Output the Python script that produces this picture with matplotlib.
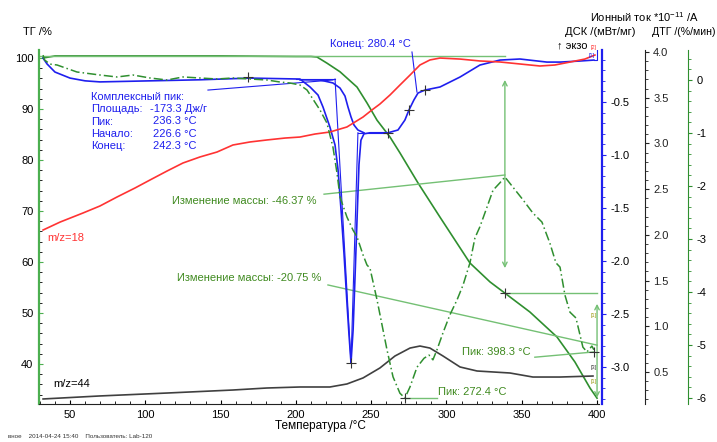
import matplotlib.pyplot as plt
from matplotlib.ticker import MultipleLocator

plt.rcParams['font.family'] = ['Liberation Sans', 'DejaVu Sans']
plt.rcParams['font.size'] = 8
plt.rcParams['axes.unicode_minus'] = False

W, H = 717, 442

# ТГ, %
tg_t = [32.1, 40, 70, 100, 150, 200, 210, 214, 220.6, 229.3, 240.6, 247.2, 253.9, 262.5,
        269.1, 281.1, 295.7, 315.6, 328.9, 338.8, 355.4, 373.4, 385.3, 395.3, 400]
tg_v = [100.0, 100.4, 100.4, 100.4, 100.4, 100.3, 100.3, 100.2, 99.0, 97.3, 94.3, 91.2, 87.8, 84.5,
        81.4, 75.5, 68.8, 59.8, 56.1, 53.9, 50.2, 45.3, 40.4, 35.3, 33.3]

# ДСК, мВт/мг
dsc_t = [32.1, 34.7, 40, 50, 60, 69.9, 103.1, 136.3, 169.5, 202.7, 209.4, 214.7, 218, 222.6,
         226, 228, 230, 232, 234, 235.3, 236.6, 238, 239.2, 240.6, 241.9, 243.2, 245.2, 249.2,
         261.2, 267.8, 272.4, 275.1, 278.4, 281.1, 285.7, 295.7, 309, 322.2, 335.5, 348.8,
         366.7, 375.4, 388.6, 397.9]
dsc_v = [-0.085, -0.14, -0.217, -0.274, -0.30, -0.31, -0.30, -0.29, -0.274, -0.283, -0.358,
         -0.434, -0.547, -0.736, -0.906, -1.14, -1.52, -1.94, -2.415, -2.70, -2.96, -2.65, -2.18,
         -1.61, -1.09, -0.86, -0.80, -0.79, -0.79, -0.764, -0.67, -0.575, -0.48, -0.415, -0.387,
         -0.358, -0.264, -0.151, -0.104, -0.094, -0.123, -0.123, -0.113, -0.104]

# ДСК, сигмоидальная линия
dsc2_t = [202.7, 216, 224.6, 229.3, 232.6, 234.6, 236.6, 238.6, 241.2, 245.2]
dsc2_v = [-0.29, -0.292, -0.32, -0.368, -0.443, -0.547, -0.64, -0.717, -0.764, -0.79]

# Ионный ток m/z=18
ion18_t = [32.1, 43.4, 58.6, 69.9, 81.2, 93.2, 103.1, 114.4, 125, 136.3, 147.6, 158.2, 169.5,
           180.8, 192.8, 202.7, 212.7, 222.6, 233.9, 244.6, 250.5, 255.8, 262.5, 269.1, 275.8,
           282.4, 289.0, 295.7, 309, 322.2, 335.5, 348.8, 362.1, 372.0, 382, 391.9, 398.6]
ion18_v = [2.053, 2.14, 2.239, 2.316, 2.414, 2.513, 2.60, 2.698, 2.786, 2.852, 2.906, 2.983,
           3.016, 3.038, 3.059, 3.070, 3.103, 3.125, 3.18, 3.289, 3.366, 3.431, 3.53, 3.639,
           3.748, 3.858, 3.913, 3.934, 3.923, 3.902, 3.891, 3.869, 3.847, 3.858, 3.89, 3.923, 3.967]

# Ионный ток m/z=44
ion44_t = [32.1, 69.9, 114.4, 158.2, 180.8, 202.7, 222.6, 233.9, 244.6, 255.8, 265.8, 275.8,
           282.4, 289, 297.7, 309, 320.3, 342.2, 357.4, 375.4, 397.3]
ion44_v = [0.205, 0.238, 0.27, 0.303, 0.325, 0.336, 0.336, 0.369, 0.435, 0.544, 0.675, 0.762,
           0.784, 0.762, 0.675, 0.555, 0.511, 0.489, 0.445, 0.445, 0.456]

# ДТГ, %/мин
dtg_t = [32.1, 33.0, 36.7, 41.4, 54.6, 69.9, 81.2, 91.8, 103.1, 114.4, 125, 136.3, 147.6, 158.2,
         169.5, 180.8, 189.4, 196.1, 202.7, 207.4, 216, 220.6, 224.6, 227.3, 229.3, 233.9, 237.9,
         240.6, 244.6, 247.2, 249.2, 253.9, 257.2, 260.5, 264.5, 269.1, 272.4, 275.8, 280.4,
         285.1, 288.4, 291.0, 293.7, 297.7, 302.3, 307, 311, 315.6, 318.9, 322.2, 326.9, 330.9,
         335.5, 338.8, 344.1, 350.8, 357.4, 363.4, 368.7, 372.7, 375.4, 378.7, 382, 386, 390.6,
         393.3, 396.6, 397.9]
dtg_v = [0.47, 0.38, 0.30, 0.283, 0.151, 0.094, 0.057, 0.094, 0.038, 0.0, 0.057, 0.038, 0.019,
         0.038, 0.019, 0.0, -0.038, -0.057, -0.094, -0.189, -0.566, -0.811, -1.264, -1.755,
         -2.208, -2.585, -2.83, -2.96, -3.30, -3.49, -3.55, -4.15, -4.62, -5.09, -5.60, -5.91,
         -6.0, -5.79, -5.42, -5.25, -5.19, -5.28, -5.09, -4.77, -4.43, -4.15, -3.87, -3.45,
         -2.98, -2.77, -2.40, -2.08, -1.94, -1.83, -2.02, -2.26, -2.51, -2.68, -3.08, -3.45,
         -3.53, -4.06, -4.38, -4.49, -5.04, -5.13, -5.02, -5.09]

dsc_marks_t = [168.2, 236.6, 261.2, 275.1, 285.7]
dsc_marks_v = [-0.264, -2.96, -0.79, -0.575, -0.387]

GREEN = '#2f8f2f'
LGREEN = '#74c074'
BLUE = '#1f1fee'
RED = '#ff3333'
GRAY = '#404040'
TXTGREEN = '#3f8a1f'


def px(x, y):
    return x / W, 1 - y / H


fig = plt.figure(figsize=(W / 100, H / 100), dpi=100)
ax = fig.add_axes([39 / W, 38 / H, 560 / W, 354 / H])
ax.set_xlim(29.4, 401.3)
ax.set_ylim(32.16, 101.57)

ax_dsc = ax.twinx()
ax_dsc.set_ylim(-3.349, -0.009)
ax_ion = ax.twinx()
ax_ion.set_ylim(0.15, 4.022)
ax_dtg = ax.twinx()
ax_dtg.set_ylim(-6.113, 0.566)

for a in (ax, ax_dsc, ax_ion, ax_dtg):
    a.spines['top'].set_visible(False)
    a.patch.set_visible(False)
for a in (ax_dsc, ax_ion, ax_dtg):
    a.spines['left'].set_visible(False)
    a.spines['bottom'].set_visible(False)
ax.spines['right'].set_visible(False)

ax.spines['left'].set_color('#4caf50')
ax.spines['left'].set_linewidth(1.6)
ax.spines['bottom'].set_color('#222222')
ax_dsc.spines['right'].set_position(('outward', 2))
ax_dsc.spines['right'].set_color(BLUE)
ax_dsc.spines['right'].set_linewidth(1.6)
ax_ion.spines['right'].set_position(('outward', 33))
ax_ion.spines['right'].set_color('#222222')
ax_dtg.spines['right'].set_position(('outward', 64))
ax_dtg.spines['right'].set_color(GREEN)

ax.xaxis.set_major_locator(MultipleLocator(50))
ax.xaxis.set_minor_locator(MultipleLocator(10))
ax.yaxis.set_major_locator(MultipleLocator(10))
ax.yaxis.set_minor_locator(MultipleLocator(2))
ax.tick_params(axis='both', which='both', direction='in', labelsize=8, pad=4)
ax.tick_params(axis='both', which='major', length=3)
ax.tick_params(axis='both', which='minor', length=2)
ax.tick_params(axis='y', colors='#4caf50', labelcolor='black')

ax_dsc.yaxis.set_major_locator(MultipleLocator(0.5))
ax_dsc.yaxis.set_minor_locator(MultipleLocator(0.1))
ax_dsc.tick_params(which='both', colors=BLUE, labelcolor='black', labelsize=8, pad=3)
ax_dsc.tick_params(which='major', length=3)
ax_dsc.tick_params(which='minor', length=2)
ax_dsc.yaxis.set_major_formatter(lambda v, p: f'{v:.1f}' if v < -0.2 else '')

ax_ion.yaxis.set_major_locator(MultipleLocator(0.5))
ax_ion.yaxis.set_minor_locator(MultipleLocator(0.1))
ax_ion.tick_params(which='both', colors='#222222', labelsize=8, pad=3)
ax_ion.tick_params(which='major', length=3)
ax_ion.tick_params(which='minor', length=2)
ax_ion.yaxis.set_major_formatter(lambda v, p: f'{v:.1f}')

ax_dtg.yaxis.set_major_locator(MultipleLocator(1))
ax_dtg.yaxis.set_minor_locator(MultipleLocator(0.2))
ax_dtg.tick_params(which='both', colors=GREEN, labelcolor='black', labelsize=8, pad=3)
ax_dtg.tick_params(which='major', length=3)
ax_dtg.tick_params(which='minor', length=2)
ax_dtg.yaxis.set_major_formatter(lambda v, p: f'{v:.0f}')

# curves
ax.plot(tg_t, tg_v, color=GREEN, lw=1.2)
ax_ion.plot(ion18_t, ion18_v, color=RED, lw=1.2)
ax_ion.plot(ion44_t, ion44_v, color=GRAY, lw=1.2)
ax_dtg.plot(dtg_t, dtg_v, color=GREEN, lw=1.1, ls=(0, (6, 2, 1, 2)))
ax_dsc.plot(dsc_t, dsc_v, color=BLUE, lw=1.2)
ax_dsc.plot(dsc2_t, dsc2_v, color=BLUE, lw=1.2)

# DSC integration lines
ax_dsc.plot([141.6, 224.6], [-0.387, -0.292], color=BLUE, lw=0.8)
ax_dsc.plot([200, 226], [-0.283, -0.283], color=BLUE, lw=0.8)
ax_dsc.plot([226, 236.6], [-0.283, -2.96], color=BLUE, lw=0.8)
ax_dsc.plot([236.6, 241.2], [-2.96, -0.79], color=BLUE, lw=0.8)
ax_dsc.plot([241.2, 261.2], [-0.79, -0.79], color=BLUE, lw=0.8)
ax_dsc.plot(dsc_marks_t, dsc_marks_v, ls='none', marker='+', ms=7, mew=0.8, color='#333333')
ax_dsc.plot([277.1, 280.4], [-0.028, -0.406], color=BLUE, lw=0.8)
ax_dsc.plot([398, 400.2, 400.2], [-0.104, -0.104, -0.01], color=BLUE, lw=0.8)

# mass change construction
ax.plot([30, 338.8], [100.4, 100.4], color=LGREEN, lw=1)
ax.plot([338.8, 400], [53.9, 53.9], color=LGREEN, lw=1)
ax.annotate('', xy=(338.8, 95.7), xytext=(338.8, 58.8),
            arrowprops=dict(arrowstyle='<->', color=LGREEN, lw=1, shrinkA=0, shrinkB=0))
ax.annotate('', xy=(400, 51.8), xytext=(400, 33.4),
            arrowprops=dict(arrowstyle='<->', color=LGREEN, lw=1, shrinkA=0, shrinkB=0))
ax.plot([218.7, 338.8], [73.3, 77.06], color=LGREEN, lw=1)
ax.plot([221.3, 400], [55.5, 43.7], color=LGREEN, lw=1)
ax.plot([338.8], [53.9], marker='+', ms=7, mew=0.8, color='#333333')

# DTG peaks
ax_dtg.plot([272.4, 293.6], [-6.0, -6.0], color=LGREEN, lw=1)
ax_dtg.plot([358.7, 398.3], [-5.23, -5.13], color=LGREEN, lw=1)
ax_dtg.plot([272.4, 398.3], [-6.0, -5.13], ls='none', marker='+', ms=7, mew=0.8, color='#333333')

# texts
fig.text(*px(23, 32), 'ТГ /%', ha='left', va='center', fontsize=8)
fig.text(*px(590, 17), 'Ионный ток *10$^{\\mathregular{-11}}$ /А', ha='left', va='center', fontsize=8)
fig.text(*px(565, 32), 'ДСК /(мВт/мг)', ha='left', va='center', fontsize=8)
fig.text(*px(652, 32), 'ДТГ /(%/мин)', ha='left', va='center', fontsize=7.6)
fig.text(*px(557, 45), '↑ экзо', ha='left', va='center', fontsize=8)

for i, s in enumerate(['Комплексный пик:', 'Площадь:', 'Пик:', 'Начало:', 'Конец:']):
    fig.text(*px(91, 97 + i * 12.3), s, ha='left', va='center', fontsize=8, color=BLUE)
fig.text(*px(150, 109), '-173.3 Дж/г', ha='left', va='center', fontsize=8, color=BLUE)
for i, s in enumerate(['236.3 °C', '226.6 °C', '242.3 °C']):
    fig.text(*px(153, 121.3 + i * 12.3), s, ha='left', va='center', fontsize=8, color=BLUE)
fig.text(*px(330, 44), 'Конец: 280.4 °C', ha='left', va='center', fontsize=8, color=BLUE)

fig.text(*px(47, 238), 'm/z=18', ha='left', va='center', fontsize=8, color=RED)
fig.text(*px(53, 384), 'm/z=44', ha='left', va='center', fontsize=8, color='black')
fig.text(*px(172, 201), 'Изменение массы: -46.37 %', ha='left', va='center', fontsize=8, color=TXTGREEN)
fig.text(*px(177, 278), 'Изменение массы: -20.75 %', ha='left', va='center', fontsize=8, color=TXTGREEN)
fig.text(*px(462, 352), 'Пик: 398.3 °C', ha='left', va='center', fontsize=8, color=TXTGREEN)
fig.text(*px(438, 392), 'Пик: 272.4 °C', ha='left', va='center', fontsize=8, color=TXTGREEN)

fig.text(*px(594, 48), '[2]', ha='center', va='center', fontsize=4, color=RED)
fig.text(*px(592, 55), '[1]', ha='center', va='center', fontsize=4, color=BLUE)
fig.text(*px(594, 316), '[1]', ha='center', va='center', fontsize=4, color='#9a9a10')
fig.text(*px(594, 367), '[3]', ha='center', va='center', fontsize=4, color=GRAY)
fig.text(*px(594, 381), '[1]', ha='center', va='center', fontsize=4, color='#9a9a10')

fig.text(*px(320, 426), 'Температура /°C', ha='center', va='center', fontsize=8.5)
fig.text(*px(8, 437), 'вное    2014-04-24 15:40    Пользователь: Lab-120',
         ha='left', va='center', fontsize=4.5, color='#333333')

fig.savefig('out.png', dpi=100)
